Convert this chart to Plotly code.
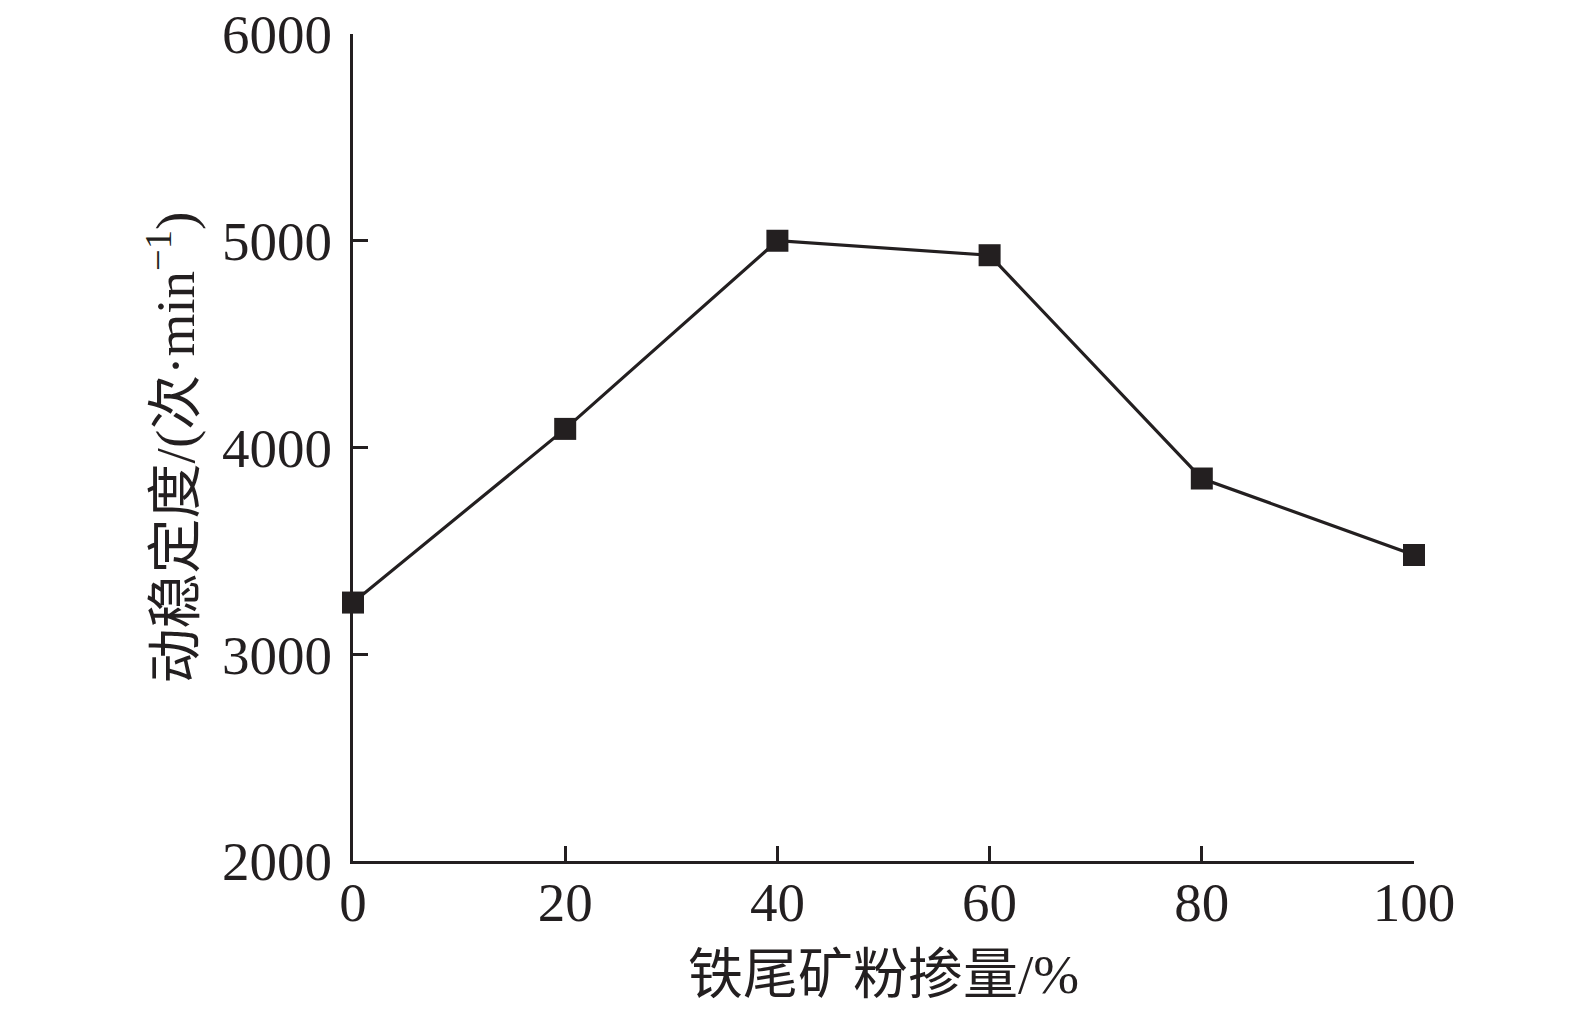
import plotly.graph_objects as go

x_vals = [0, 20, 40, 60, 80, 100]
y_vals = [3250, 4090, 5000, 4930, 3850, 3480]
x_ticks = [0, 20, 40, 60, 80, 100]
y_ticks = [2000, 3000, 4000, 5000, 6000]
x_title = "铁尾矿粉掺量/%"
y_title = "动稳定度/(次·min<sup>−1</sup>)"

ink = "#231f20"
font_family = "Liberation Serif, Times New Roman, Noto Sans CJK SC, serif"

fig = go.Figure()
fig.add_trace(go.Scatter(
    x=x_vals, y=y_vals, mode="lines+markers",
    line=dict(color=ink, width=3.2),
    marker=dict(symbol="square", size=22, color=ink),
    cliponaxis=False, showlegend=False,
))

fig.update_layout(
    width=1575, height=1016,
    margin=dict(l=345, r=169, t=26, b=163, autoexpand=False),
    paper_bgcolor="white", plot_bgcolor="white",
    font=dict(family=font_family, size=55, color=ink),
)
fig.update_xaxes(
    range=[0, 100], tickvals=x_ticks, ticks="inside", ticklen=15, tickwidth=3,
    tickcolor=ink, showline=True, linecolor=ink, linewidth=3, showgrid=False,
    zeroline=False, tickfont=dict(size=55, family=font_family), automargin=False,
    ticklabeloverflow="allow", ticklabelstandoff=-9,
    title=dict(text=x_title, font=dict(size=55, family=font_family), standoff=23),
)
fig.update_yaxes(
    range=[2000, 6000], tickvals=y_ticks, ticks="inside", ticklen=15, tickwidth=3,
    tickcolor=ink, showline=True, linecolor=ink, linewidth=3, showgrid=False,
    zeroline=False, tickfont=dict(size=55, family=font_family), automargin=False,
    ticklabeloverflow="allow", ticklabelstandoff=7,
    title=dict(text=y_title, font=dict(size=55, family=font_family), standoff=10),
)

fig.write_html("out.html")
